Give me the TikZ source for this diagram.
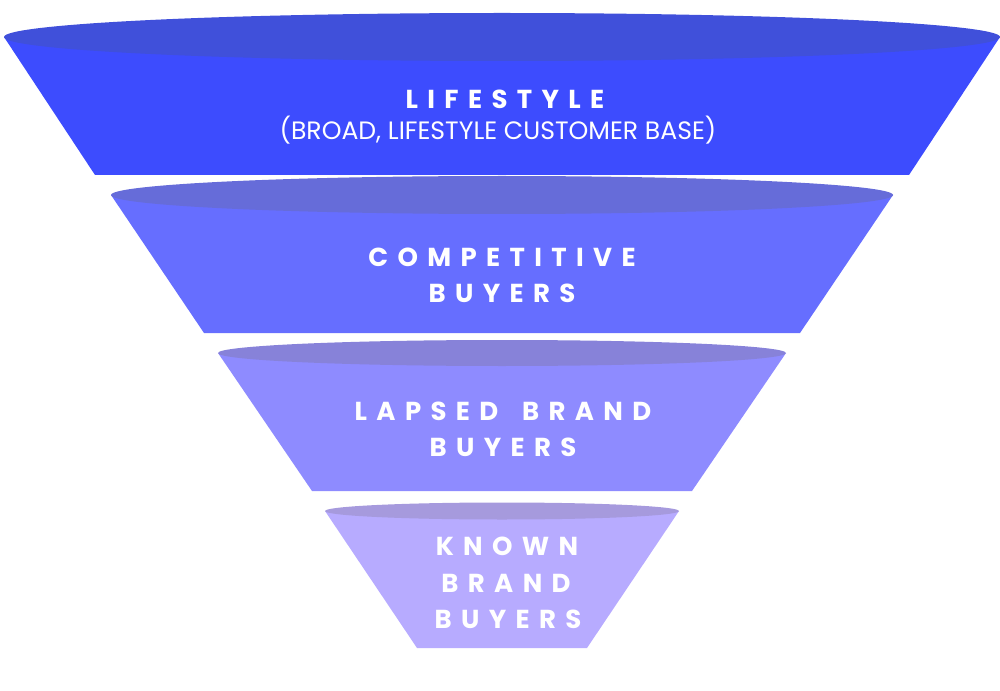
\documentclass[tikz,border=0pt]{standalone}
\usepackage{fontspec}
\setmainfont{Poppins}
\newfontfamily\headfont[LetterSpace=36, WordSpace=1.6]{Poppins}
\usetikzlibrary{positioning}
\definecolor{bodyA}{HTML}{3D4CFE}
\definecolor{rimA}{HTML}{4050DA}
\definecolor{bodyB}{HTML}{666EFF}
\definecolor{rimB}{HTML}{666CD9}
\definecolor{bodyC}{HTML}{8E8BFF}
\definecolor{rimC}{HTML}{8782D9}
\definecolor{bodyD}{HTML}{B7ABFF}
\definecolor{rimD}{HTML}{A69ADD}
\tikzset{%
	head/.style={text=white, inner sep=0mm,%
		font=\headfont\bfseries\fontsize{14.8}{16}\selectfont},
	sub/.style={text=white, inner sep=0mm, anchor=base,%
		font=\fontsize{14.3}{16}\selectfont}
}

\begin{document}
\begin{tikzpicture}[x=0.2mm, y=-0.2mm]
	\useasboundingbox (0,0) rectangle (1000,691);

	% funnel layers: rim y / rim radii / bottom y / bottom half width / colours
	\foreach \cy/\rx/\ry/\by/\bw/\body/\rim in {%
		37/498/24/175/407/bodyA/rimA,
		195/391/19/333/298/bodyB/rimB,
		353/284/13/491/190/bodyC/rimC,
		511/177/8.5/648/85/bodyD/rimD} {
		\fill[\body] (502-\rx,\cy) -- (502+\rx,\cy) -- (502+\bw,\by) -- (502-\bw,\by) -- cycle;
		\fill[\rim] (502,\cy) ellipse [x radius=\rx, y radius=\ry];
	}

	\node[head] (life) at (505,99.5) {LIFESTYLE};
	\node[sub] (lifesub) at (498,140) {(BROAD, LIFESTYLE CUSTOMER BASE)};

	\node[head] (comp) at (502,257.5) {COMPETITIVE};
	\node[head] (compbuy) at (502,293) {BUYERS};

	\node[head] (lapsed) at (503,411) {LAPSED BRAND};
	\node[head] (lapsedbuy) at (503,447) {BUYERS};

	\node[head] (known) at (507,546.5) {KNOWN};
	\node[head] (knownbrand) at (506,583.5) {BRAND};
	\node[head] (knownbuy) at (508,619) {BUYERS};
\end{tikzpicture}
\end{document}
